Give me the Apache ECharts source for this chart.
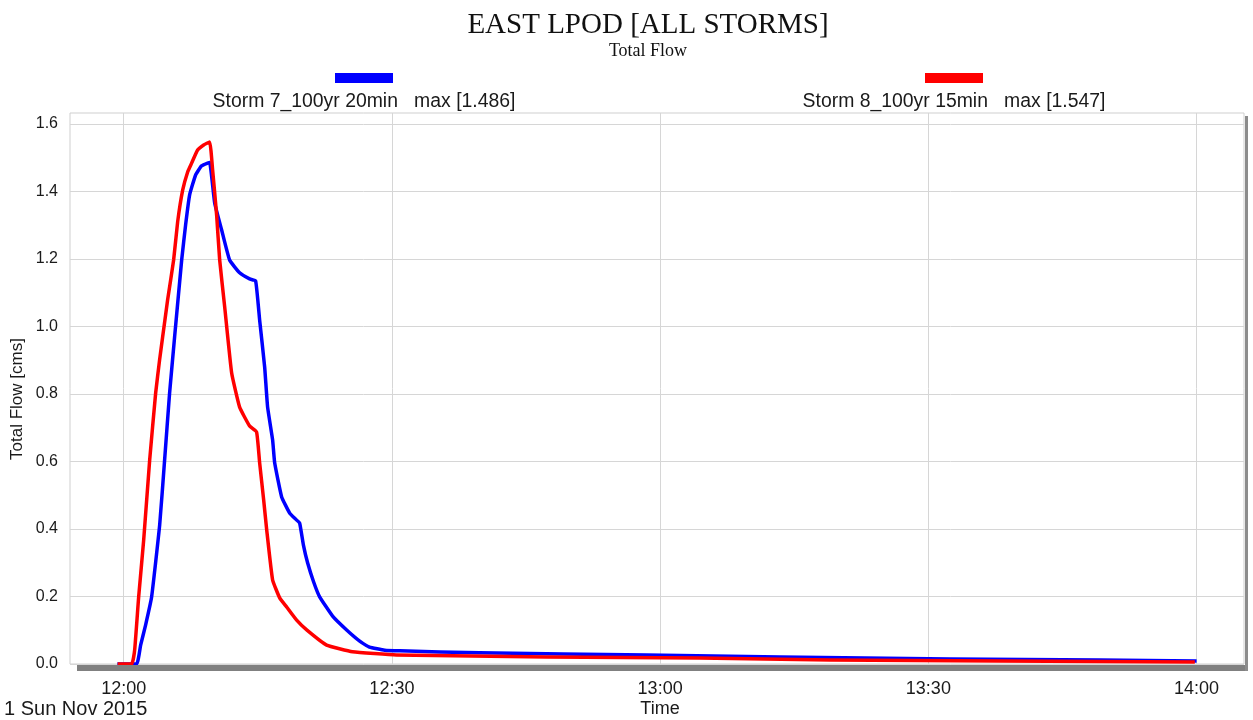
<!DOCTYPE html>
<html>
<head>
<meta charset="utf-8">
<script src="https://cdn.jsdelivr.net/npm/echarts@6/dist/echarts.min.js"></script>
<style>
html,body{margin:0;padding:0;background:#fff;}
#chart{width:1253px;height:720px;}
</style>
</head>
<body>
<div id="chart"></div>
<script>
// ---- Data (minutes after 12:00, flow in cms) ----
const seriesNames = ['Storm 7_100yr 20min', 'Storm 8_100yr 15min'];
const storm7Minutes = [-0.7, 1.45, 1.9, 2.46, 3.13, 4.03, 4.58, 5.14, 5.7, 6.49, 6.93, 7.38, 8.05, 8.72, 9.39, 9.62, 10.18, 10.96, 11.85, 12.97, 14.09, 14.76, 15.21, 15.77, 16.1, 16.66, 16.89, 17.67, 18.57, 19.2, 19.68, 20.1, 20.58, 21.25, 21.92, 23.37, 24.94, 26.4, 27.5, 29.2, 30.9, 39.8, 58.5, 73.4, 92.4, 109.2, 120];
const storm7Flow = [0, 0, 0.056, 0.116, 0.199, 0.412, 0.604, 0.803, 0.969, 1.197, 1.301, 1.39, 1.449, 1.476, 1.484, 1.486, 1.366, 1.286, 1.197, 1.159, 1.141, 1.135, 1.019, 0.88, 0.761, 0.664, 0.596, 0.495, 0.447, 0.43, 0.418, 0.353, 0.299, 0.243, 0.199, 0.142, 0.101, 0.068, 0.05, 0.041, 0.039, 0.033, 0.027, 0.021, 0.015, 0.012, 0.009];
const storm8Minutes = [-0.67, 0.9, 1.23, 1.68, 2.24, 2.91, 3.58, 4.02, 4.36, 4.92, 5.59, 6.04, 6.6, 7.16, 7.6, 8.27, 8.95, 9.62, 9.95, 10.4, 10.74, 11.3, 12.08, 12.97, 14.09, 14.87, 15.21, 15.66, 16.0, 16.66, 17.45, 18.23, 19.35, 20.47, 22.7, 25.6, 30.5, 47.3, 64.4, 79, 98, 119.8];
const storm8Flow = [0, 0, 0.041, 0.199, 0.367, 0.604, 0.803, 0.901, 0.969, 1.079, 1.197, 1.31, 1.404, 1.458, 1.484, 1.523, 1.538, 1.547, 1.464, 1.33, 1.197, 1.058, 0.862, 0.761, 0.705, 0.687, 0.596, 0.486, 0.397, 0.249, 0.196, 0.169, 0.13, 0.101, 0.056, 0.036, 0.027, 0.021, 0.018, 0.012, 0.009, 0.006];
const xTickMinutes = [0, 30, 60, 90, 120];
const yTickValues = [0, 0.2, 0.4, 0.6, 0.8, 1.0, 1.2, 1.4, 1.6];
const titleText = 'EAST LPOD [ALL STORMS]';
const subtitleText = 'Total Flow';
const yAxisTitle = 'Total Flow [cms]';
const xAxisTitle = 'Time';
const dateLabel = '1 Sun Nov 2015';

function pairs(xs, ys){ return xs.map((x,i)=>[x, ys[i]]); }
function fmtTime(v){
  const h = 12 + Math.floor(v/60), m = Math.round(v % 60);
  return h + ':' + (m < 10 ? '0' + m : m);
}
const max7 = Math.max(...storm7Flow).toFixed(3);
const max8 = Math.max(...storm8Flow).toFixed(3);

const chart = echarts.init(document.getElementById('chart'));
const labelFont = 'Liberation Sans, Arial, sans-serif';
const serifFont = 'Liberation Serif, Times New Roman, serif';
const gridColor = '#d6d6d6';

chart.setOption({
  animation: false,
  backgroundColor: '#ffffff',
  grid: { left: 70, right: 9, top: 113, bottom: 56, show: true, borderColor: '#cfcfcf', borderWidth: 1 },
  xAxis: {
    type: 'value', min: -6, max: 125.3,
    axisLine: { show: false },
    axisTick: { show: false, customValues: xTickMinutes },
    axisLabel: { customValues: xTickMinutes, formatter: fmtTime, margin: 16,
      fontFamily: labelFont, fontSize: 18, color: '#1a1a1a' },
    splitLine: { show: true, lineStyle: { color: gridColor, width: 1 } }
  },
  yAxis: {
    type: 'value', min: 0, max: 1.6326,
    axisLine: { show: false },
    axisTick: { show: false, customValues: yTickValues },
    axisLabel: { customValues: yTickValues, formatter: v => v.toFixed(1), margin: 12,
      fontFamily: labelFont, fontSize: 16, color: '#1a1a1a' },
    splitLine: { show: true, lineStyle: { color: gridColor, width: 1 } }
  },
  graphic: [
    { type: 'text', x: 648, y: 25, style: { text: titleText, fill: '#111',
      font: '29px ' + serifFont, textAlign: 'center', textVerticalAlign: 'middle' } },
    { type: 'text', x: 648, y: 51, style: { text: subtitleText, fill: '#111',
      font: '18px ' + serifFont, textAlign: 'center', textVerticalAlign: 'middle' } },
    { type: 'rect', shape: { x: 77, y: 665, width: 1171, height: 6 }, style: { fill: '#808080' }, z: 100 },
    { type: 'rect', shape: { x: 1245, y: 116, width: 3, height: 555 }, style: { fill: '#8c8c8c' }, z: 100 },
    { type: 'rect', shape: { x: 335, y: 73, width: 58, height: 10 }, style: { fill: '#0000ff' } },
    { type: 'rect', shape: { x: 925, y: 73, width: 58, height: 10 }, style: { fill: '#ff0000' } },
    { type: 'text', x: 364, y: 102, style: { text: seriesNames[0] + '   max [' + max7 + ']', fill: '#1a1a1a',
      font: '19.4px ' + labelFont, textAlign: 'center', textVerticalAlign: 'middle' } },
    { type: 'text', x: 954, y: 102, style: { text: seriesNames[1] + '   max [' + max8 + ']', fill: '#1a1a1a',
      font: '19.4px ' + labelFont, textAlign: 'center', textVerticalAlign: 'middle' } },
    { type: 'text', x: 17, y: 399, rotation: Math.PI/2, style: { text: yAxisTitle, fill: '#1a1a1a',
      font: '17px ' + labelFont, textAlign: 'center', textVerticalAlign: 'middle' } },
    { type: 'text', x: 660, y: 709, style: { text: xAxisTitle, fill: '#1a1a1a',
      font: '18px ' + labelFont, textAlign: 'center', textVerticalAlign: 'middle' } },
    { type: 'text', x: 4, y: 709, style: { text: dateLabel, fill: '#1a1a1a',
      font: '20px ' + labelFont, textAlign: 'left', textVerticalAlign: 'middle' } }
  ],
  series: [
    { name: seriesNames[0], type: 'line', data: pairs(storm7Minutes, storm7Flow), showSymbol: false,
      smooth: 0.12,
      lineStyle: { color: '#0000ff', width: 3.5, join: 'round' }, itemStyle: { color: '#0000ff' }, z: 3 },
    { name: seriesNames[1], type: 'line', data: pairs(storm8Minutes, storm8Flow), showSymbol: false,
      smooth: 0.12,
      lineStyle: { color: '#ff0000', width: 3.5, join: 'round' }, itemStyle: { color: '#ff0000' }, z: 4 }
  ]
});
</script>
</body>
</html>
